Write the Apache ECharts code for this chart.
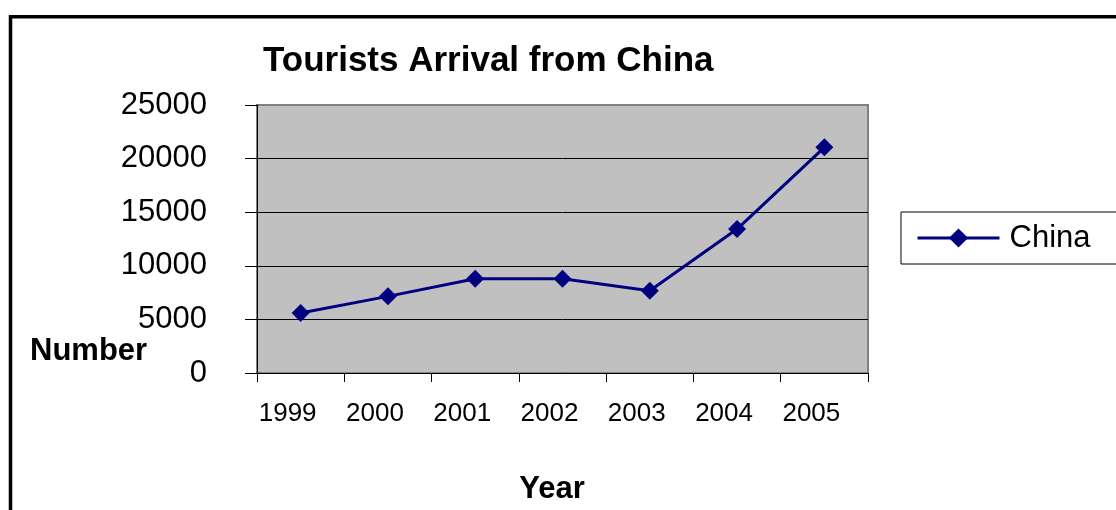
<!DOCTYPE html>
<html>
<head>
<meta charset="utf-8">
<script src="https://cdn.jsdelivr.net/npm/echarts@6/dist/echarts.min.js"></script>
<style>
html,body{margin:0;padding:0;background:#fff;}
#chart{width:1116px;height:510px;}
</style>
</head>
<body>
<div id="chart"></div>
<script>
const categories = ['1999', '2000', '2001', '2002', '2003', '2004', '2005'];
const chinaValues = [5600, 7150, 8800, 8800, 7680, 13430, 21050];
const yTicks = [0, 5000, 10000, 15000, 20000, 25000];
const seriesName = 'China';
const titleText = 'Tourists Arrival from China';
const xName = 'Year';
const yName = 'Number';

const FONT = '"Liberation Sans", Arial, sans-serif';
const chart = echarts.init(document.getElementById('chart'), null, {renderer: 'canvas'});
chart.setOption({
  animation: false,
  backgroundColor: '#ffffff',
  title: {
    text: titleText,
    left: 263, top: 44, padding: 0,
    textStyle: {fontFamily: FONT, fontSize: 35, fontWeight: 'bold', color: '#000', lineHeight: 35}
  },
  legend: {
    data: [seriesName],
    left: 901, top: 212,
    orient: 'vertical',
    padding: [10, 140, 10, 15],
    borderColor: '#000', borderWidth: 1,
    backgroundColor: '#fff',
    itemWidth: 82, itemHeight: 24,
    lineStyle: {width: 3},
    textStyle: {fontFamily: FONT, fontSize: 31, color: '#000', lineHeight: 32, padding: [0, 0, 0, 5]}
  },
  grid: {
    left: 257, top: 105, right: 248, bottom: 137,
    outerBoundsMode: 'none',
    show: true, backgroundColor: '#c0c0c0', borderColor: '#808080', borderWidth: 2,
    containLabel: false
  },
  xAxis: {
    type: 'category',
    data: categories,
    boundaryGap: true,
    name: xName,
    nameLocation: 'middle',
    nameGap: 101,
    nameTextStyle: {fontFamily: FONT, fontSize: 31, fontWeight: 'bold', color: '#000', padding: [0, 21, 0, 0]},
    axisLine: {show: true, lineStyle: {color: '#000', width: 1}},
    axisTick: {show: true, alignWithLabel: false, length: 9, lineStyle: {color: '#000'}},
    axisLabel: {fontFamily: FONT, fontSize: 26, color: '#000', margin: 28, padding: [0, 26, 0, 0]},
    splitLine: {show: false}
  },
  yAxis: {
    type: 'value',
    min: yTicks[0], max: yTicks[yTicks.length - 1], interval: yTicks[1] - yTicks[0],
    axisLine: {show: true, lineStyle: {color: '#000', width: 1}},
    axisTick: {show: true, length: 12, lineStyle: {color: '#000'}},
    axisLabel: {fontFamily: FONT, fontSize: 31, color: '#000', margin: 50, formatter: function (v) { return String(v); }},
    splitLine: {show: true, lineStyle: {color: ['#000', '#000', '#000', '#000', '#000', '#808080'], width: 1}}
  },
  series: [{
    name: seriesName,
    type: 'line',
    data: chinaValues,
    symbol: 'diamond',
    symbolSize: 18,
    lineStyle: {color: '#000080', width: 3},
    itemStyle: {color: '#000080'},
    z: 5
  }],
  graphic: [
    {type: 'rect', shape: {x: 10.5, y: 16.7, width: 1300, height: 700},
     style: {fill: 'none', stroke: '#000', lineWidth: 3.5}, silent: true, z: 100},
    {type: 'text', left: 30, top: 336,
     style: {text: yName, fontFamily: FONT, fontSize: 31, fontWeight: 'bold', fill: '#000'}}
  ]
});
</script>
</body>
</html>
